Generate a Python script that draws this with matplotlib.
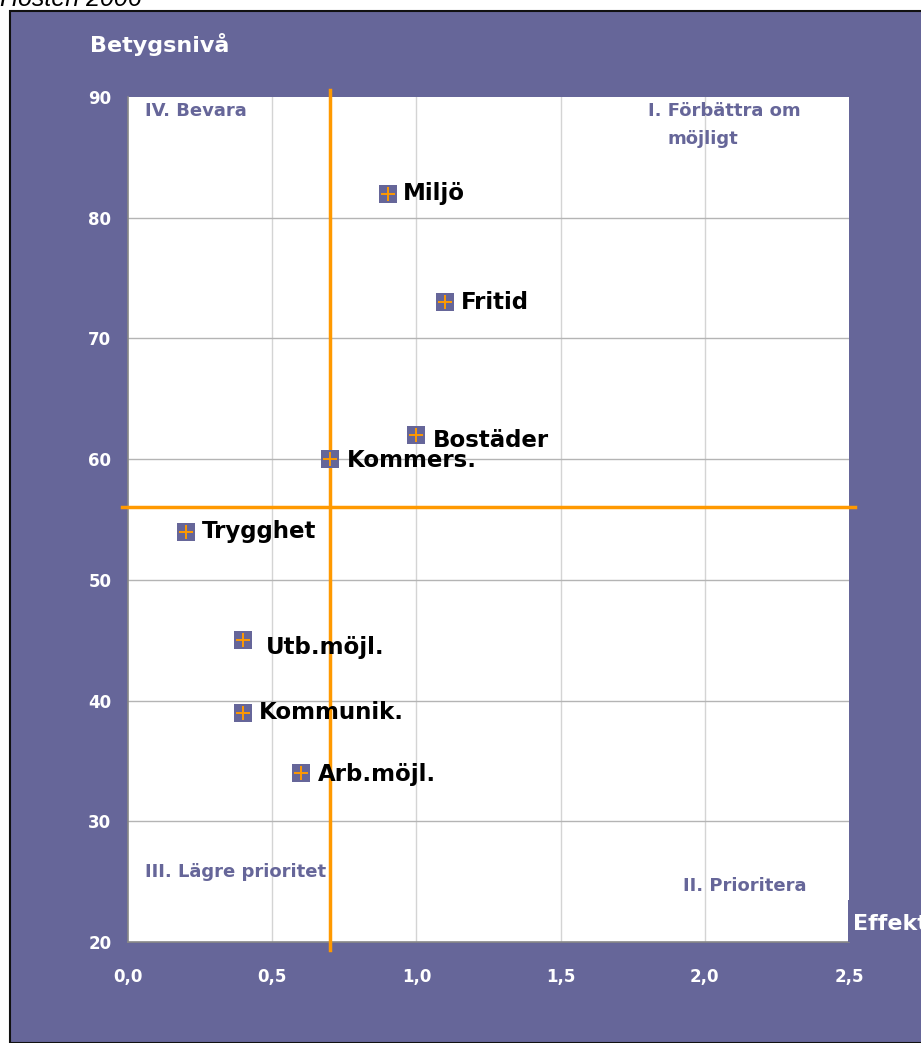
import matplotlib
matplotlib.use("Agg")
import matplotlib.pyplot as plt
from matplotlib.patches import Rectangle

plt.rcParams['font.family'] = ['DejaVu Sans']

# data
labels = ['Miljö', 'Fritid', 'Bostäder', 'Kommers.', 'Trygghet',
          'Utb.möjl.', 'Kommunik.', 'Arb.möjl.']
effekt = [0.9, 1.1, 1.0, 0.7, 0.2, 0.4, 0.4, 0.6]
betyg = [82, 73, 62, 60, 54, 45, 39, 34]
# label offsets in points (dx, dy)
offsets = [(11, 0), (11, 0), (12, -4), (12, -1), (12, 0), (16, -5), (11.5, 0), (12, -1)]

x_ticks = [0.0, 0.5, 1.0, 1.5, 2.0, 2.5]
y_ticks = [20, 30, 40, 50, 60, 70, 80, 90]
x_split = 0.7
y_split = 56

purple = '#666699'
orange = '#FF9900'

fig = plt.figure(figsize=(9.21, 10.43), dpi=100)

# purple frame behind everything
fig.patches.append(Rectangle((10 / 921, 0), 1, 1 - 11 / 1043, transform=fig.transFigure,
                             facecolor=purple, edgecolor='#111111', linewidth=1.5, zorder=-10))
fig.text(0.0, 1 - 6 / 1043, 'Hösten 2006', fontsize=18, style='italic', color='black',
         va='baseline', ha='left', family='Liberation Sans')

ax = fig.add_axes([128 / 921, 101 / 1043, 721 / 921, 845 / 1043])
ax.set_facecolor('white')
ax.set_xlim(0, 2.5)
ax.set_ylim(20, 90)
ax.set_xticks(x_ticks)
ax.set_yticks(y_ticks)
ax.set_xticklabels([f'{v:.1f}'.replace('.', ',') for v in x_ticks])
ax.set_yticklabels([str(v) for v in y_ticks])
ax.tick_params(colors='white', labelsize=12, length=0)
for lab in ax.get_xticklabels() + ax.get_yticklabels():
    lab.set_fontweight('bold')
ax.tick_params(axis='x', pad=19)
ax.tick_params(axis='y', pad=12)

for v in x_ticks[1:-1]:
    ax.axvline(v, color='#d4d4d4', lw=1, zorder=1)
for v in y_ticks[1:-1]:
    ax.axhline(v, color='#b4b4b4', lw=1, zorder=1)

for sp in ax.spines.values():
    sp.set_color('#888888')
    sp.set_linewidth(1.2)
ax.spines['top'].set_visible(False)
ax.spines['right'].set_visible(False)

# quadrant split lines
ax.plot([x_split, x_split], [19.3, 90.6], color=orange, lw=2.5, clip_on=False, zorder=3)
ax.plot([-0.02, 2.52], [y_split, y_split], color=orange, lw=2.5, clip_on=False, zorder=3)

# markers
ax.scatter(effekt, betyg, marker='s', s=150, color=purple, zorder=4, linewidths=0)
ax.scatter(effekt, betyg, marker='+', s=95, color=orange, linewidths=1.4, zorder=5)
for lab, x, y, (dx, dy) in zip(labels, effekt, betyg, offsets):
    ax.annotate(lab, (x, y), xytext=(dx, dy), textcoords='offset points',
                fontsize=16.5, fontweight='bold', color='black', va='center', ha='left', zorder=6)

# quadrant labels
qstyle = dict(color=purple, fontsize=13, fontweight='bold', transform=fig.transFigure)
fig.text(145 / 921, 1 - 111 / 1043, 'IV. Bevara', va='center', **qstyle)
fig.text(648 / 921, 1 - 111 / 1043, 'I. Förbättra om', va='center', **qstyle)
fig.text(667 / 921, 1 - 139 / 1043, 'möjligt', va='center', **qstyle)
fig.text(145 / 921, 1 - 872 / 1043, 'III. Lägre prioritet', va='center', **qstyle)
fig.text(683 / 921, 1 - 886 / 1043, 'II. Prioritera', va='center', **qstyle)

# axis titles
fig.text(90 / 921, 1 - 45 / 1043, 'Betygsnivå', color='white', fontsize=16,
         fontweight='bold', va='center', ha='left')
fig.patches.append(Rectangle((848 / 921, 101 / 1043), 80 / 921, 42 / 1043,
                             transform=fig.transFigure, facecolor=purple,
                             edgecolor='none', zorder=7))
fig.text(853 / 921, 1 - 924 / 1043, 'Effekt', color='white', fontsize=16,
         fontweight='bold', va='center', ha='left', zorder=8)

fig.savefig('out.png', dpi=100)
